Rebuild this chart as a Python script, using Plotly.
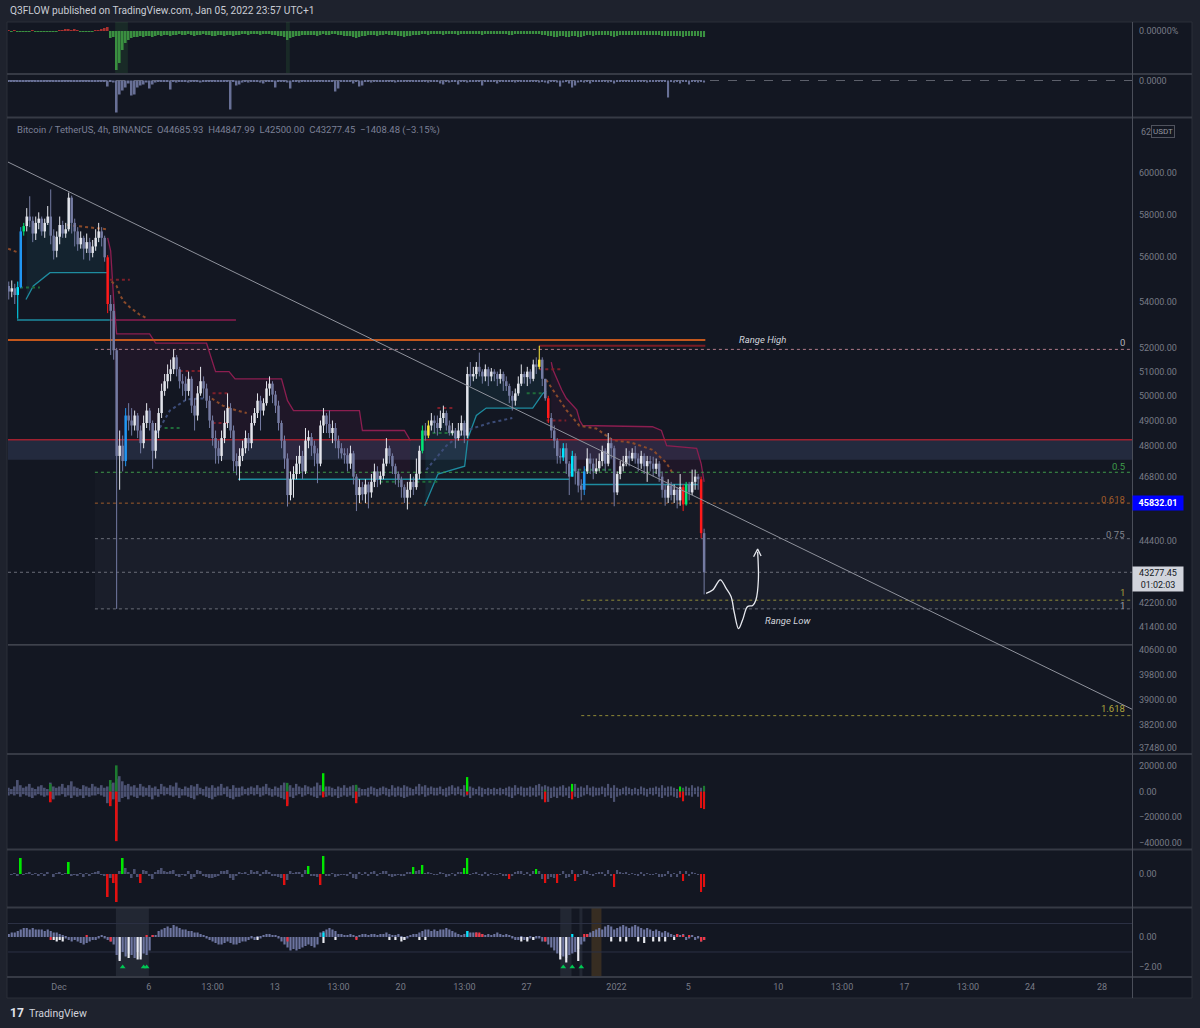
import math
import pandas as pd
import plotly.graph_objects as go

W, H = 1200, 1028

# ---------------- candle data (4h candles, exchange local time UTC+1) ----------------
start_time = "2021-11-28 05:00"
first_open = 54700

closes = [
    54450, 54600, 54300, 54650, 57200,
    57450, 57900, 57700, 57100, 57600, 57800,
    57200, 57600, 57900, 57000, 56300, 56950,
    57500, 57100, 57300, 58800, 57600, 57200,
    56600, 56900, 56400, 56700, 56200, 56500,
    56900, 57200, 56900, 56000, 53900, 53600,
    51900, 47600, 48000, 47400, 49200, 49000,
    48800, 49200, 48600, 48100, 48900, 49400,
    48900, 47800, 48600, 49300, 50200, 50600,
    50900, 51100, 51600, 51100, 50600, 50500,
    50200, 50700, 49600, 49200, 50100, 50600,
    50300, 49800, 49000, 48300, 47900, 47600,
    48300, 48900, 49500, 48600, 47400, 47200,
    47600, 47900, 48300, 48100, 48900, 49300,
    49800, 49400, 49700, 50300, 50500, 50050,
    49600, 48900, 48200, 47500, 46100, 46700,
    46900, 47300, 47600, 47000, 48200, 48340,
    48000, 47700, 47300, 48800, 49200, 48860,
    48500, 48700, 48200, 47900, 47700, 47630,
    47300, 47700, 46800, 46100, 46400, 46130,
    46500, 46200, 46600, 47000, 46700, 46830,
    47300, 47900, 47600, 47200, 46900, 46680,
    46400, 46000, 46300, 46600, 46400, 46910,
    47800, 48600, 48400, 48800, 49000, 48900,
    48700, 49100, 49300, 48800, 48500, 48600,
    48300, 48600, 48900, 48400, 50900, 50800,
    50900, 51200, 51000, 50800, 51100, 50800,
    51000, 50900, 50700, 50900, 50600, 50400,
    50000, 49800, 50100, 50500, 50900, 50770,
    51000, 50700, 51300, 51200, 51500, 50700,
    49900, 49100, 48600, 48200, 47600, 47540,
    47900, 47300, 46800, 47600, 47000, 46460,
    46300, 47000, 47500, 47300, 47000, 47120,
    47400, 47800, 47300, 48100, 47900, 46200,
    46900, 47200, 47300, 47600, 47500, 47720,
    47500, 47300, 47600, 47200, 47400, 47300,
    47100, 47300, 46800, 46300, 46000, 46460,
    46100, 46300, 45900, 46400, 45750, 46500,
    46200, 46600, 46800, 46700, 44685.93, 43277.45,
]
highs = [
    54900, 54950, 54800, 54900, 57400,
    57600, 58300, 58870, 57900, 57900, 58100,
    57900, 57800, 58400, 59200, 57300, 57200,
    57900, 57700, 57600, 59050, 58900, 57800,
    57400, 57200, 57000, 57100, 56900, 56800,
    57300, 57600, 57400, 57000, 56100, 54300,
    53900, 52000, 48600, 48400, 49500, 49700,
    49500, 49400, 49300, 48800, 49200, 49700,
    49500, 49000, 48900, 49500, 50500, 50900,
    51300, 51500, 51940, 51700, 51200, 50900,
    50800, 51000, 50800, 49900, 50400, 51200,
    50800, 50500, 50000, 49200, 48600, 48200,
    48600, 49400, 50100, 49700, 48800, 47700,
    47900, 48200, 48600, 48500, 49200, 49500,
    50100, 50000, 49900, 50600, 50800, 50600,
    50200, 49800, 49000, 48400, 47700, 47000,
    47200, 47600, 48000, 47800, 48700, 48600,
    48500, 48200, 47900, 49000, 49500, 49300,
    49400, 49000, 48900, 48400, 48100, 47900,
    47900, 48000, 47800, 46900, 46700, 46600,
    46700, 46600, 46900, 47300, 47200, 47000,
    47500, 48300, 48000, 47700, 47300, 47000,
    46800, 46500, 46600, 46900, 46800, 47500,
    48000, 48800, 48900, 49000, 49300, 49200,
    49200, 49400, 49600, 49400, 49000, 48900,
    48700, 48900, 49200, 49000, 51200, 51400,
    51200, 51400, 51800, 51100, 51300, 51200,
    51150, 51100, 51000, 51100, 51000, 50800,
    50500, 50200, 50300, 50800, 51300, 51000,
    51200, 51100, 51500, 51600, 52090, 51600,
    50700, 50000, 49300, 48800, 48300, 47900,
    48100, 48100, 47400, 47800, 47700, 47100,
    46700, 47200, 47900, 47700, 47500, 47500,
    47700, 48000, 47900, 48500, 48300, 48000,
    47000, 47400, 47600, 47900, 47800, 47900,
    47990, 47700, 47800, 47700, 47600, 47600,
    47570, 47500, 47400, 47000, 46500, 46700,
    46600, 46500, 46400, 46900, 46500, 46600,
    46600, 47070, 47070, 46900, 46800, 44847.99,
]
lows = [
    54100, 54200, 53900, 53256, 54600,
    57000, 57200, 57400, 56700, 56800, 57300,
    57000, 56900, 57500, 56600, 55900, 56000,
    56600, 56900, 56900, 57200, 57100, 56500,
    56300, 56400, 55900, 56200, 55850, 56000,
    56300, 56700, 56500, 55800, 53500, 51700,
    51500, 42000, 46300, 47000, 47200, 48600,
    48400, 48600, 48300, 47700, 47900, 48700,
    48600, 47100, 47500, 48300, 49100, 50000,
    50300, 50600, 50900, 50800, 50300, 50000,
    49800, 50000, 49300, 48600, 49000, 50000,
    49900, 49500, 48700, 48000, 47300, 47300,
    47400, 48100, 48700, 48300, 47000, 46850,
    46650, 47400, 47700, 47800, 47900, 48800,
    49100, 48600, 49200, 49600, 50000, 49700,
    49300, 48600, 47900, 47100, 45670, 45900,
    46000, 46700, 46900, 46700, 46900, 47900,
    47600, 47200, 46550, 47200, 48500, 48500,
    48300, 48100, 47900, 47500, 47500, 47300,
    47000, 47100, 46500, 45500, 45800, 45900,
    45800, 45600, 46000, 46400, 46400, 46500,
    46700, 47200, 47300, 46900, 46500, 46400,
    46000, 45800, 45560, 46000, 46100, 46300,
    46700, 47700, 48200, 48300, 48600, 48500,
    48400, 48600, 48900, 48600, 48400, 48400,
    47900, 48200, 48400, 48100, 48300, 50400,
    50600, 50700, 50800, 50500, 50600, 50400,
    50600, 50600, 50400, 50500, 50200, 50200,
    49700, 49400, 49600, 50000, 50400, 50500,
    50400, 50500, 50600, 50900, 51100, 50400,
    49800, 48900, 48300, 47900, 47300, 47300,
    47400, 46900, 46100, 46800, 46500, 46200,
    45900, 46100, 46900, 46900, 46700, 46900,
    47000, 47200, 47000, 47200, 47500, 45680,
    46100, 46700, 47000, 47200, 47200, 47400,
    47300, 47000, 47100, 46900, 46600, 47000,
    46800, 46900, 46600, 46000, 45700, 45800,
    45900, 45800, 45600, 45700, 45500, 45700,
    45900, 46100, 46300, 46300, 44500, 42500,
]
special_idx = [3, 4, 5, 33, 39, 138, 140, 177, 180, 185, 188, 192, 225, 226, 231]
special_kind = ["cyan", "blue", "green", "red", "blue", "green", "yellow", "yellow",
                "red", "cyan", "cyan", "blue", "red", "green", "red"]

# ---------------- indicator data (candle index, price) ----------------
upper1_idx = [33, 34, 35, 36, 47, 49, 66, 69, 73.5, 75.5, 91, 93, 95, 117, 118, 132, 134]
upper1_val = [56900, 56300, 54100, 52600, 52600, 52200, 52200, 51000, 51000, 50700, 50700,
              49800, 49400, 49400, 48600, 48600, 48200]
upper2_idx = [181, 181.5, 184.5, 186, 189.5, 190.5, 191.5, 214.75, 217.75, 219.5, 229.5, 231, 232]
upper2_val = [51400, 51100, 50240, 49900, 49430, 49000, 48800, 48750, 48600, 48000, 47900, 47300, 46600]
lowerA_idx = [5.75, 8.2, 13.75, 32.75]
lowerA_val = [54100, 54700, 55300, 55300]
lowerB_idx = [138.75, 143.2, 152.1, 153.2, 156, 159.3, 174.8, 178.2, 179.3]
lowerB_val = [45700, 46900, 47200, 48300, 49200, 49500, 49500, 50100, 50200]
sar_segments = [
    ([34.3, 36, 37.1, 38.5, 40.5, 43.5, 46.5], [54900, 54700, 54300, 54000, 53750, 53450, 53240]),
    ([67.75, 71.4, 76.1, 79.4], [49890, 49600, 49400, 49300]),
    ([179.3, 181.5, 183.7, 186, 190.4, 196, 201.4, 208, 214.75, 219.4, 221.4],
     [50660, 50240, 49830, 49430, 48790, 48680, 48230, 48110, 47840, 47330, 46950]),
    ([-0.2, 3.5], [56400, 56200]),
    ([19.5, 32.75], [57500, 57300]),
]
ma_segments = [
    ([49.4, 53.75, 59.4, 66], [48500, 49400, 49860, 49900]),
    ([139.3, 146, 152.6, 160.4, 168], [47060, 48000, 48600, 48900, 49100]),
]
pivot_green = [(3.75, 10.4, 54630), (52, 58, 48700), (123.8, 130.4, 46600), (136, 143, 46600),
               (141.4, 149.4, 48500), (172.8, 179.4, 50100), (188, 201.4, 47060)]
pivot_red = [(33.75, 40.4, 54980), (57, 64.8, 51030), (68, 73.75, 50100), (68, 73.75, 48900),
             (143, 149, 49500), (177, 184.4, 51100), (179.4, 186, 49000)]
hseg_start = [2.75, 33.75, -0.25, 177, 76.5, 191]
hseg_end = [33.75, 75.8, 232.4, 232.4, 187, 230]
hseg_price = [53200, 53200, 52340, 52090, 46700, 46500]
hseg_kind = ["teal", "maroon", "orange", "darkred", "teal", "teal"]
zone_top, zone_bot = 48230, 47450
support_line = 40780
last_price = 43277.45
trend_idx = [-0.25, 374.75]
trend_val = [60540, 38690]
fib1_start, fib1_zero, fib1_one = 28.75, 51936, 42000
fib1_levels = [0, 0.5, 0.618, 0.75, 1]
fib2_start, fib2_zero, fib2_one = 191, 48470, 42300
fib2_levels = [1, 1.618]
path_idx = [232.65, 234.85, 237.4, 239.3, 240.98, 242.1, 243.5, 244.85, 246.5, 248.2, 249.3, 250.1, 249.85]
path_val = [42537, 42650, 43010, 42718, 42425, 41855, 41329, 41629, 42084, 42118, 42316, 43010, 44013]
arrow_idx = [248.5, 249.85, 251]
arrow_val = [43830, 44110, 43855]

# ---------------- sub-pane data ----------------
p1_vals = [
    0.5, -0.5, 0.5, -0.5, -0.5,
    -0.5, -1, -0.5, 0.5, -0.5, -1,
    -0.5, -1, -0.5, -0.5, -1, -0.5,
    0.5, 1, 2, 2, 1, 2,
    0.5, -0.5, -1, -0.5, -0.5, -1,
    1, 1, 2, 3, 4, -7,
    -6, -39, -32, -19, -12, -9,
    -7, -6, -6, -5, -6, -5,
    -5, -6, -5, -4, -5, -4,
    -4, -5, -4, -4, -3, -4,
    -4, -3, -4, -5, -4, -4,
    -3, -4, -4, -5, -5, -4,
    -4, -5, -4, -4, -5, -4,
    -4, -3, -3, -4, -3, -3,
    -3, -4, -3, -3, -3, -4,
    -4, -5, -5, -6, -9, -7,
    -6, -5, -5, -4, -4, -4,
    -4, -4, -5, -4, -3, -4,
    -4, -3, -3, -4, -4, -5,
    -5, -5, -6, -7, -6, -5,
    -5, -4, -4, -4, -5, -4,
    -4, -3, -4, -4, -4, -5,
    -5, -6, -5, -5, -4, -4,
    -4, -3, -3, -4, -3, -3,
    -3, -3, -4, -3, -3, -3,
    -3, -4, -3, -3, -3, -3,
    -3, -3, -3, -4, -3, -3,
    -3, -3, -3, -3, -3, -3,
    -4, -4, -3, -3, -3, -3,
    -3, -3, -3, -3, -3, -4,
    -4, -5, -5, -6, -6, -5,
    -5, -6, -6, -5, -5, -6,
    -6, -5, -4, -4, -5, -4,
    -4, -4, -4, -4, -5, -6,
    -5, -4, -4, -4, -4, -4,
    -4, -4, -4, -4, -4, -4,
    -4, -4, -4, -5, -5, -5,
    -5, -5, -5, -5, -6, -5,
    -5, -5, -5, -5, -6, -6,
]
p1_highlight = [(35.5, 39.75), (92.5, 93.75)]

p2_vals = [
    -1, -1, -1, -1, -1,
    -1, -1, -1, -1, -1, -1,
    -1, -1, -1, -1, -1, -1,
    -1, -1, -1, -1, -1, -1,
    -1, -1, -1, -1, -1, -1,
    -1, -1, -1, -1, -6, -1,
    -2, -32, -14, -10, -7, -3,
    -15, -14, -7, -5, -4, -2,
    -8, -4, -2, -1, -1, -1,
    -1, -9, -1, -2, -1, -1,
    -1, -2, -1, -1, -1, -2,
    -1, -1, -1, -1, -1, -1,
    -1, -1, -1, -29, -1, -5,
    -4, -2, -1, -2, -1, -1,
    -1, -2, -3, -1, -1, -1,
    -7, -1, -1, -1, -2, -8,
    -1, -1, -2, -1, -1, -1,
    -1, -1, -1, -1, -1, -1,
    -1, -1, -11, -8, -1, -1,
    -1, -1, -3, -1, -6, -5,
    -1, -1, -2, -1, -1, -1,
    -1, -1, -1, -1, -2, -1,
    -1, -1, -1, -1, -1, -1,
    -1, -1, -1, -2, -1, -1,
    -1, -3, -4, -1, -2, -1,
    -1, -4, -1, -1, -2, -1,
    -1, -1, -1, -5, -1, -1,
    -1, -1, -3, -1, -1, -1,
    -1, -1, -2, -1, -1, -1,
    -1, -1, -1, -1, -2, -1,
    -2, -3, -1, -1, -2, -6,
    -2, -1, -3, -7, -5, -2,
    -1, -2, -1, -3, -1, -1,
    -1, -1, -1, -2, -1, -3,
    -1, -1, -1, -1, -1, -1,
    -1, -1, -1, -1, -2, -1,
    -1, -1, -1, -1, -1, -17,
    -1, -2, -1, -3, -1, -1,
    -4, -1, -1, -2, -1, -2,
]

p4_up = [
    3, 2, 4, 9, 5,
    3, 4, 6, 3, 2, 4,
    5, 3, 2, 7, 4, 3,
    4, 6, 3, 5, 8, 4,
    3, 2, 5, 4, 3, 6,
    4, 3, 5, 3, 4, 6,
    7, 10, 12, 8, 5, 6,
    4, 5, 3, 6, 4, 3,
    5, 3, 4, 2, 6, 4,
    3, 5, 4, 7, 3, 2,
    4, 3, 5, 4, 6, 3,
    2, 4, 3, 5, 3, 4,
    6, 3, 4, 2, 5, 3,
    3, 4, 2, 3, 4, 3,
    5, 3, 4, 6, 3, 2,
    4, 3, 5, 7, 4, 5,
    3, 6, 4, 3, 5, 4,
    3, 4, 7, 5, 3, 4,
    4, 3, 2, 4, 3, 5,
    3, 4, 5, 4, 3, 2,
    2, 3, 4, 3, 2, 3,
    4, 3, 2, 5, 3, 4,
    3, 5, 4, 3, 2, 4,
    6, 4, 5, 3, 4, 3,
    3, 4, 2, 3, 4, 5,
    3, 4, 2, 5, 8, 4,
    3, 2, 4, 3, 2, 3,
    2, 3, 2, 3, 2, 3,
    4, 3, 5, 3, 4, 3,
    3, 4, 3, 5, 6, 4,
    5, 4, 3, 4, 3, 4,
    5, 3, 4, 3, 6, 3,
    4, 3, 5, 3, 4, 3,
    3, 4, 3, 6, 3, 5,
    3, 2, 3, 4, 3, 2,
    3, 2, 4, 3, 2, 3,
    3, 4, 3, 5, 3, 4,
    4, 3, 2, 4, 3, 4,
    3, 5, 3, 4, 3, 4,
]
p4_dn = [
    -3, -2, -3, -2, -4,
    -2, -3, -4, -5, -3, -2,
    -3, -4, -3, -5, -6, -3,
    -3, -2, -4, -3, -5, -3,
    -4, -3, -5, -3, -4, -3,
    -3, -2, -3, -4, -9, -7,
    -6, -30, -8, -5, -4, -6,
    -3, -4, -5, -3, -4, -3,
    -4, -6, -3, -4, -2, -3,
    -2, -3, -4, -3, -5, -3,
    -3, -4, -5, -6, -3, -2,
    -3, -4, -5, -6, -4, -3,
    -3, -2, -4, -5, -6, -4,
    -4, -3, -2, -3, -2, -3,
    -2, -4, -3, -2, -3, -4,
    -3, -4, -5, -6, -10, -4,
    -5, -3, -2, -4, -3, -2,
    -3, -4, -5, -3, -2, -4,
    -3, -4, -3, -5, -4, -3,
    -4, -3, -5, -6, -4, -3,
    -3, -4, -2, -3, -4, -3,
    -2, -3, -4, -3, -4, -3,
    -4, -5, -4, -3, -3, -2,
    -3, -2, -4, -3, -2, -3,
    -3, -2, -3, -4, -3, -2,
    -3, -2, -3, -4, -3, -5,
    -3, -2, -3, -4, -2, -3,
    -2, -3, -2, -3, -2, -3,
    -4, -5, -3, -2, -3, -4,
    -3, -4, -3, -4, -3, -6,
    -6, -8, -5, -4, -5, -3,
    -4, -3, -5, -3, -4, -5,
    -4, -3, -2, -3, -4, -3,
    -3, -2, -4, -3, -5, -8,
    -4, -3, -2, -3, -2, -3,
    -2, -3, -2, -3, -4, -2,
    -3, -2, -4, -5, -3, -4,
    -3, -4, -5, -3, -4, -3,
    -3, -4, -2, -4, -6, -5,
]
p4_green_idx = [14, 34, 36, 93, 105, 116, 153, 179, 188, 224, 225, 232]
p4_green_val = [6, 9, 20.4, 6.8, 14.3, 5.3, 11.3, 1.5, 6, 3.8, 2.3, 4.5]
p4_green_bright = [0, 0, 0, 0, 1, 0, 1, 0, 1, 1, 0, 0]
p4_red_idx = [14, 34, 36, 93, 105, 116, 153, 179, 188, 224, 225, 231, 232]
p4_red_val = [-8.3, -11.3, -38.5, -11.3, -4.5, -9, -2.3, -8.3, -6, -4.5, -7.5, -12.8, -13.6]

p5_gray = [
    0, -1, 1, -2, 0,
    -1, 1, 2, -1, 1, -2,
    1, -2, 2, 0, -3, 1,
    2, -1, 1, 0, -2, -1,
    -2, 1, -3, 1, -2, 1,
    2, 3, -1, -2, 0, -4,
    0, 0, 3, 0, 6, 2,
    -4, 5, -3, 0, 4, 3,
    -2, -5, 2, 4, 6, 3,
    2, 3, 4, -2, -3, -1,
    -2, 3, -5, -3, 4, 3,
    -2, -3, -4, -4, -3, -2,
    3, 3, 4, -4, -6, -2,
    2, 1, 2, -1, 4, 2,
    3, -2, 2, 4, 2, -2,
    -2, -3, -4, 0, -6, 3,
    1, 2, 2, -3, 4, 0,
    -2, -2, -3, 0, 0, -2,
    -2, 1, -3, -2, -1, -1,
    -2, 2, -4, -5, 2, -1,
    2, -2, 2, 3, -2, 1,
    3, 3, -2, -3, -2, -1,
    -2, -2, 2, 2, 0, 3,
    4, 0, 1, 2, 1, -1,
    -1, 2, 1, -3, -2, 1,
    -2, 2, 2, 0, 0, -1,
    1, 2, -1, -2, 2, -2,
    1, -1, -1, 1, -2, -2,
    0, -2, 2, 3, 3, -1,
    2, -2, 3, 0, 3, -5,
    0, -5, -3, -4, 0, -1,
    3, -4, -3, 4, 0, -3,
    -1, 4, 3, -1, -2, 1,
    2, 2, -2, 4, -2, 0,
    4, 2, 1, 2, -1, 1,
    -1, -2, 2, -2, 1, -1,
    -1, 1, -3, -3, -2, 3,
    -3, 1, -3, 3, 0, 3,
    -2, 2, 1, -1, 0, 0,
]
p5_green_idx = [4, 20, 38, 100, 105, 135, 138, 152, 153, 176]
p5_green_val = [16, 12, 16, 8, 18, 7, 9, 6, 16, 5]
p5_red_idx = [33, 35, 36, 44, 92, 104, 167, 179, 183, 189, 202, 225, 231, 232]
p5_red_val = [-23, -9, -28, -9, -11, -11, -5, -9, -9, -7, -13, -7, -18, -13]

p6_vals = [
    2, 3, 3, 4, 5,
    6, 6, 5, 6, 5, 5,
    5, 4, 5, 4, 3, 3,
    2, 1, -1, -2, -3, -2,
    -3, -4, -5, -4, -3, -2,
    -2, -1, 1, -1, -2, -3,
    -5, -12, -15, -10, -13, -11,
    -12, -14, -10, -13, -11, -12,
    -9, 1, 1, 4, 5, 6,
    7, 6, 8, 7, 6, 5,
    5, 4, 4, 3, 3, 2,
    1, -1, -2, -3, -4, -5,
    -5, -4, -3, -4, -5, -5,
    -4, -3, -3, -2, -1, -2,
    -1, -1, 1, 2, 2, 1,
    1, -1, -3, -5, -7, -9,
    -8, -9, -8, -7, -6, -5,
    -6, -7, -5, 3, 4, 5,
    6, 5, 4, 2, 2, 1,
    1, 2, 1, -1, 1, 2,
    2, 1, 2, 2, 1, 2,
    2, 3, 2, 1, 1, 2,
    -1, -2, -1, 1, 2, 2,
    3, 4, 5, 5, 4, 5,
    4, 5, 5, 6, 5, 4,
    3, 2, 1, 2, 4, 3,
    3, 3, 2, 2, 1, 2,
    1, 2, 3, 2, 1, 2,
    1, -1, -2, -2, -1, -2,
    -2, -1, -2, -1, -1, -3,
    -3, -5, -7, -9, -11, -12,
    -13, -14, -12, -11, -10, -8,
    -5, -3, 2, 3, 4, 5,
    6, 5, 7, 8, 7, 5,
    6, 7, 8, 7, 6, 7,
    8, 7, 6, 5, 6, 5,
    4, 5, 4, 3, 4, 3,
    2, 1, 2, 1, 2, -2,
    -1, 1, -2, -1, -3, -2,
]
p6_white_idx = [15, 16, 17, 18, 37, 40, 43, 44, 83, 105, 109, 127, 129, 131, 132, 137, 139,
                171, 173, 175, 184, 186, 190, 201, 204, 206, 210, 212, 215, 217, 219, 222]
p6_white_val = [-2, -3, -2, -3, -16, -14, -15, -15, -2, -4, -2, -2, -2, -3, -2, -2, -2,
                -3, -3, -2, -15, -17, -16, -3, -3, -3, -3, -4, -3, -3, -3, -2]
p6_red_idx = [14, 26, 34, 46, 48, 93, 116, 156, 157, 158, 179, 192, 193, 223, 225, 227, 231, 232]
p6_red_val = [-2, 1, -3, 1, 1, -3, -2, 3, 3, 2, -3, 2, 2, 2, 1, 1, -3, -2]
p6_cyan_idx = [105, 153, 188]
p6_cyan_val = [3, 4, 2]
p6_highlight = [(35.75, 46.75, "gray"), (184, 187.75, "gray"), (190.4, 191.4, "gray"), (194.4, 197.75, "brown")]
p6_signal_idx = [38, 45, 46, 185, 188, 191]

# ---------------- styling ----------------
BG_OUT = "#1e222d"
BG = "#131722"
TXT = "#787b86"
UP = "#e3e5ec"
DN = "#747ba2"
KIND = {"cyan": "#00e5ff", "blue": "#2196f3", "green": "#00e676", "red": "#ff1a1a", "yellow": "#ffeb3b"}
LINEC = {"teal": "#1e8ca0", "maroon": "#8c1e50", "orange": "#c4571c", "darkred": "#7a1c24"}
FONT = "Roboto"

n = len(closes)
assert len(highs) == n and len(lows) == n, (len(highs), len(lows), n)
for name, arr in [("p1", p1_vals), ("p2", p2_vals), ("p4u", p4_up), ("p4d", p4_dn), ("p5", p5_gray), ("p6", p6_vals)]:
    assert len(arr) == n, (name, len(arr))

t0 = pd.Timestamp(start_time)


def T(idx):
    return (t0 + pd.Timedelta(hours=4 * idx)).strftime("%Y-%m-%d %H:%M:%S")


times = [T(i) for i in range(n)]
X_LEFT = "2021-11-28 04:00:00"
X_RIGHT = "2022-01-29 16:00:00"
opens = [first_open] + closes[:-1]
special = dict(zip(special_idx, special_kind))

fig = go.Figure()


def add_line(xs, ys, color, width=1.0, dash=None, yaxis="y", shape="linear", fill=None, fillcolor=None, mode="lines"):
    fig.add_trace(go.Scatter(x=xs, y=ys, mode=mode, xaxis="x", yaxis=yaxis, hoverinfo="skip",
                             line=dict(color=color, width=width, dash=dash, shape=shape),
                             fill=fill, fillcolor=fillcolor))


def interp(idx_list, val_list, i):
    for k in range(len(idx_list) - 1):
        if idx_list[k] <= i <= idx_list[k + 1]:
            a, b = idx_list[k], idx_list[k + 1]
            f = 0 if b == a else (i - a) / (b - a)
            return val_list[k] + f * (val_list[k + 1] - val_list[k])
    return val_list[0] if i < idx_list[0] else val_list[-1]


# --- fib fills
f1 = lambda lv: fib1_zero + (fib1_one - fib1_zero) * lv
add_line([T(fib1_start), X_RIGHT, X_RIGHT, T(fib1_start), T(fib1_start)],
         [f1(0.75), f1(0.75), f1(1), f1(1), f1(0.75)], "rgba(0,0,0,0)", 0,
         fill="toself", fillcolor="rgba(130,134,150,0.07)")
add_line([T(fib1_start), X_RIGHT, X_RIGHT, T(fib1_start), T(fib1_start)],
         [f1(0.5), f1(0.5), f1(0.75), f1(0.75), f1(0.5)], "rgba(0,0,0,0)", 0,
         fill="toself", fillcolor="rgba(130,134,150,0.03)")

# --- zone band
add_line([X_LEFT, X_RIGHT, X_RIGHT, X_LEFT, X_LEFT], [zone_top, zone_top, zone_bot, zone_bot, zone_top],
         "rgba(0,0,0,0)", 0, fill="toself", fillcolor="rgba(72,84,120,0.32)")

# --- trailing band fills
for bidx, bval, col in [(upper1_idx, upper1_val, "rgba(140,30,90,0.11)"),
                        (upper2_idx, upper2_val, "rgba(140,30,90,0.11)"),
                        (lowerA_idx, lowerA_val, "rgba(30,150,170,0.10)"),
                        (lowerB_idx, lowerB_val, "rgba(30,150,170,0.10)")]:
    i0 = int(math.ceil(bidx[0]))
    i1 = int(math.floor(bidx[-1]))
    rng = list(range(i0, min(i1, n - 1) + 1))
    xs = [T(i) for i in rng] + [T(i) for i in reversed(rng)]
    ys = [interp(bidx, bval, i) for i in rng] + [closes[i] for i in reversed(rng)]
    add_line(xs + [xs[0]], ys + [ys[0]], "rgba(0,0,0,0)", 0, fill="toself", fillcolor=col)

# --- band lines
add_line([T(i) for i in upper1_idx], upper1_val, LINEC["maroon"], 1.3)
add_line([T(i) for i in upper2_idx], upper2_val, LINEC["maroon"], 1.3)
add_line([T(i) for i in lowerA_idx], lowerA_val, LINEC["teal"], 1.3)
add_line([T(i) for i in lowerB_idx], lowerB_val, LINEC["teal"], 1.3)

# --- dotted indicator paths
for sidx, sval in sar_segments:
    add_line([T(i) for i in sidx], sval, "#8a4a2a", 2, dash="dot")
for sidx, sval in ma_segments:
    add_line([T(i) for i in sidx], sval, "#3c4c78", 2, dash="dot")
for a, b, p in pivot_green:
    add_line([T(a), T(b)], [p, p], "#1f6b3a", 2, dash="dot")
for a, b, p in pivot_red:
    add_line([T(a), T(b)], [p, p], "#7d1f2a", 2, dash="dot")

# --- horizontal segments
for a, b, p, k in zip(hseg_start, hseg_end, hseg_price, hseg_kind):
    add_line([T(a), T(b)], [p, p], LINEC[k], 2 if k in ("orange", "darkred") else 1.3)

# --- full width lines
add_line([X_LEFT, X_RIGHT], [zone_top, zone_top], "#a0202f", 1.5)
add_line([X_LEFT, X_RIGHT], [support_line, support_line], "#5d606b", 1)
add_line([X_LEFT, X_RIGHT], [last_price, last_price], "#6a6d78", 1, dash="dot")

# --- fib lines
fib1_colors = {0: "#b07a88", 0.5: "#3f9b4a", 0.618: "#a15c2a", 0.75: "#6a6d78", 1: "#6a6d78"}
for lv in fib1_levels:
    add_line([T(fib1_start), X_RIGHT], [f1(lv), f1(lv)], fib1_colors[lv], 1, dash="dot")
f2 = lambda lv: fib2_zero + (fib2_one - fib2_zero) * lv
for lv in fib2_levels:
    add_line([T(fib2_start), X_RIGHT], [f2(lv), f2(lv)], "#8f8a36", 1, dash="dot")

# --- candles
colors = []
for i in range(n):
    if i in special:
        colors.append(KIND[special[i]])
    elif closes[i] >= opens[i]:
        colors.append(UP)
    else:
        colors.append(DN)
for col in sorted(set(colors)):
    wx, wy, bx, by = [], [], [], []
    for i in range(n):
        if colors[i] != col:
            continue
        o, c = opens[i], closes[i]
        hi = max(highs[i], o, c)
        lo = min(lows[i], o, c)
        wx += [times[i], times[i], None]
        wy += [lo, hi, None]
        b0, b1 = min(o, c), max(o, c)
        if b1 / b0 < 1.0012:
            b1 = b0 * 1.0012
        bx += [times[i], times[i], None]
        by += [b0, b1, None]
    add_line(wx, wy, col, 1)
    add_line(bx, by, col, 2.5)

# --- trend line and drawn path
add_line([T(i) for i in trend_idx], trend_val, "#8f929c", 1)
add_line([T(i) for i in path_idx], path_val, "#e6e8ee", 1.3, shape="spline")
add_line([T(i) for i in arrow_idx], arrow_val, "#e6e8ee", 1.3)

# ---------------- sub panes ----------------
BW = 4 * 3600 * 1000 * 0.62


def add_bars(idx, vals, color, yaxis, width=BW):
    fig.add_trace(go.Bar(x=[T(i) for i in idx], y=vals, width=width, xaxis="x", yaxis=yaxis,
                         marker=dict(color=color, line=dict(width=0)), hoverinfo="skip"))


# pane 1
add_bars(range(n), p1_vals, ["#a9302f" if v > 0 else "#3a8f40" for v in p1_vals], "y2")
# pane 2
add_bars(range(n), p2_vals, "#687096", "y3")
# pane 4
add_bars(range(n), p4_up, "#4b5171", "y4")
add_bars(range(n), p4_dn, "#4b5171", "y4")
add_bars(p4_green_idx, p4_green_val, ["#00e600" if b else "#1d7a30" for b in p4_green_bright], "y4")
add_bars(p4_red_idx, p4_red_val, "#e31010", "y4")
# pane 5
add_bars(range(n), p5_gray, "#4b5171", "y5")
add_bars(p5_green_idx, p5_green_val, "#00e600", "y5")
add_bars(p5_red_idx, p5_red_val, "#e31010", "y5")
# pane 6
add_bars(range(n), p6_vals, "#6d75a0", "y6", 4 * 3600 * 1000 * 0.72)
add_bars(p6_white_idx, p6_white_val, "#e9eaf0", "y6", 4 * 3600 * 1000 * 0.72)
add_bars(p6_red_idx, p6_red_val, "#f23645", "y6", 4 * 3600 * 1000 * 0.72)
add_bars(p6_cyan_idx, p6_cyan_val, "#00e5ff", "y6", 4 * 3600 * 1000 * 0.72)
fig.add_trace(go.Scatter(x=[T(i) for i in p6_signal_idx], y=[-20] * len(p6_signal_idx), mode="markers",
                         xaxis="x", yaxis="y6", hoverinfo="skip",
                         marker=dict(symbol="triangle-up", size=5, color="#00c853")))

# ---------------- layout ----------------
def pyd(top, bot):
    return [1 - bot / H, 1 - top / H]


def px(xp):
    return xp / W


def py(yp):
    return 1 - yp / H


price_ticks = [37480, 38200, 39000, 39800, 40600, 41400, 42200, 44400, 46800, 48000,
               49000, 50000, 51000, 52000, 54000, 56000, 58000, 60000]
xtick_vals = ["2021-12-01", "2021-12-06", "2021-12-09 13:00", "2021-12-13", "2021-12-16 13:00", "2021-12-20",
              "2021-12-23 13:00", "2021-12-27", "2022-01-01", "2022-01-05", "2022-01-10", "2022-01-13 13:00",
              "2022-01-17", "2022-01-20 13:00", "2022-01-24", "2022-01-28"]
xtick_text = ["Dec", "6", "13:00", "13", "13:00", "20", "13:00", "27", "2022", "5", "10", "13:00",
              "17", "13:00", "24", "28"]

axis_common = dict(anchor="x", side="right", showgrid=False, zeroline=False, showline=False, ticks="",
                   tickfont=dict(family=FONT, size=9, color=TXT), ticklabelstandoff=6, fixedrange=True)

fig.update_layout(
    width=W, height=H, margin=dict(l=0, r=0, t=0, b=0),
    paper_bgcolor=BG_OUT, plot_bgcolor="rgba(0,0,0,0)", showlegend=False, barmode="overlay",
    font=dict(family=FONT, size=9, color=TXT),
    xaxis=dict(domain=[px(8), px(1132)], anchor="y6", type="date", range=[X_LEFT, X_RIGHT],
               showgrid=False, zeroline=False, showline=False, ticks="", tickvals=xtick_vals,
               ticktext=xtick_text, tickfont=dict(family=FONT, size=9, color=TXT), ticklabelstandoff=3),
    yaxis=dict(domain=pyd(118, 753), type="log", range=[math.log10(37328), math.log10(62762)],
               tickvals=price_ticks, ticktext=[f"{v:.2f}" for v in price_ticks], **axis_common),
    yaxis2=dict(domain=pyd(22, 73), range=[-42, 9], tickvals=[0], ticktext=["0.00000%"], **axis_common),
    yaxis3=dict(domain=pyd(75, 117), range=[-36.5, 5.5], tickvals=[0], ticktext=["0.0000"], **axis_common),
    yaxis4=dict(domain=pyd(755, 849), range=[-44.6, 28.45], tickvals=[20, 0, -20, -40],
                ticktext=["20000.00", "0.00", "\u221220000.00", "\u221240000.00"], **axis_common),
    yaxis5=dict(domain=pyd(850, 907), range=[-33, 24], tickvals=[0], ticktext=["0.00"], **axis_common),
    yaxis6=dict(domain=pyd(908, 977), range=[-26.67, 19.33], tickvals=[0, -20],
                ticktext=["0.00", "\u22122.00"], **axis_common),
)

shapes = []
# chart frame
shapes.append(dict(type="rect", xref="paper", yref="paper", x0=px(7), x1=px(1192), y0=py(998), y1=py(22),
                   fillcolor=BG, line=dict(color="#2a2e39", width=1), layer="below"))
# highlights
for a, b in p1_highlight:
    shapes.append(dict(type="rect", xref="x", yref="y2 domain", x0=T(a), x1=T(b), y0=0, y1=1,
                       fillcolor="rgba(60,140,70,0.16)", line=dict(width=0), layer="below"))
for a, b, k in p6_highlight:
    shapes.append(dict(type="rect", xref="x", yref="y6 domain", x0=T(a), x1=T(b), y0=0, y1=1,
                       fillcolor="rgba(140,95,35,0.30)" if k == "brown" else "rgba(120,125,145,0.16)",
                       line=dict(width=0), layer="below"))
# pane 6 levels
for lv in [9, -10]:
    shapes.append(dict(type="line", xref="x domain", yref="y6", x0=0, x1=1, y0=lv, y1=lv,
                       line=dict(color="#2c3144", width=1), layer="below"))
# pane 2 dashed zero
shapes.append(dict(type="line", xref="x domain", yref="y3", x0=0, x1=1, y0=0, y1=0,
                   line=dict(color="#5d606b", width=1, dash="dash"), layer="below"))
# pane separators
for yy in [74, 117.5, 754, 849.5, 907.5, 977]:
    shapes.append(dict(type="line", xref="paper", yref="paper", x0=px(7), x1=px(1192), y0=py(yy), y1=py(yy),
                       line=dict(color="#363a45", width=2)))
# price axis separator
shapes.append(dict(type="line", xref="paper", yref="paper", x0=px(1132.5), x1=px(1132.5), y0=py(998), y1=py(22),
                   line=dict(color="#4a4e59", width=1)))
fig.update_layout(shapes=shapes)

ann = []
ann.append(dict(xref="paper", yref="paper", x=px(8), y=py(11), xanchor="left", yanchor="middle", showarrow=False,
                text="Q3FLOW published on TradingView.com, Jan 05, 2022 23:57 UTC+1",
                font=dict(family=FONT, size=10.2, color="#c9ccd4")))
sp = "\u00a0\u00a0"
ann.append(dict(xref="paper", yref="paper", x=px(15), y=py(130), xanchor="left", yanchor="middle", showarrow=False,
                text="Bitcoin / TetherUS, 4h, BINANCE" + sp + "O44685.93" + sp + "H44847.99" + sp + "L42500.00" + sp
                     + "C43277.45" + sp + "\u22121408.48 (\u22123.15%)",
                font=dict(family=FONT, size=9.5, color="#7c8097")))
fib_labels = [("0", 343, "#b2b5be"), ("0.5", 467, "#3f9b4a"), ("0.618", 499, "#a15c2a"), ("0.75", 534, "#80838e"),
              ("1", 592, "#a69d3b"), ("1", 605, "#a0a3ab"), ("1.618", 708, "#b0a63d")]
for txt, yy, col in fib_labels:
    ann.append(dict(xref="paper", yref="paper", x=px(1127), y=py(yy), xanchor="right", yanchor="middle",
                    showarrow=False, text=txt, font=dict(family=FONT, size=9.5, color=col)))
ann.append(dict(xref="paper", yref="paper", x=px(762), y=py(340), xanchor="center", yanchor="middle", showarrow=False,
                text="<i>Range High</i>", font=dict(family=FONT, size=9.5, color="#d1d4dc")))
ann.append(dict(xref="paper", yref="paper", x=px(788), y=py(620), xanchor="center", yanchor="middle", showarrow=False,
                text="<i>Range Low</i>", font=dict(family=FONT, size=9.5, color="#d1d4dc")))
# axis boxes
ann.append(dict(xref="paper", yref="paper", x=px(1132), y=py(503), xanchor="left", yanchor="middle", showarrow=False,
                text="<b>45832.01</b>", bgcolor="#0000ff", width=48, height=12, borderpad=1,
                font=dict(family=FONT, size=9, color="#ffffff")))
ann.append(dict(xref="paper", yref="paper", x=px(1132), y=py(578.5), xanchor="left", yanchor="middle", showarrow=False,
                text="43277.45<br>01:02:03", bgcolor="#d1d4dc", width=48, height=22, borderpad=1,
                font=dict(family=FONT, size=9, color="#131722")))
# partially hidden top price label + currency badge
ann.append(dict(xref="paper", yref="paper", x=px(1139), y=py(132), xanchor="left", yanchor="middle", showarrow=False,
                text="62", font=dict(family=FONT, size=9, color=TXT)))
ann.append(dict(xref="paper", yref="paper", x=px(1163), y=py(131), xanchor="center", yanchor="middle", showarrow=False,
                text="USDT", bgcolor=BG, bordercolor="#50535e", borderwidth=1, borderpad=1,
                font=dict(family=FONT, size=8, color="#9598a1")))
# footer logo
ann.append(dict(xref="paper", yref="paper", x=px(8), y=py(1013), xanchor="left", yanchor="middle", showarrow=False,
                text="<b>17</b>", font=dict(family=FONT, size=12, color="#e0e3eb")))
ann.append(dict(xref="paper", yref="paper", x=px(27), y=py(1013), xanchor="left", yanchor="middle", showarrow=False,
                text="TradingView", font=dict(family=FONT, size=10.5, color="#d1d4dc")))
fig.update_layout(annotations=ann)

fig.write_html("out.html")
